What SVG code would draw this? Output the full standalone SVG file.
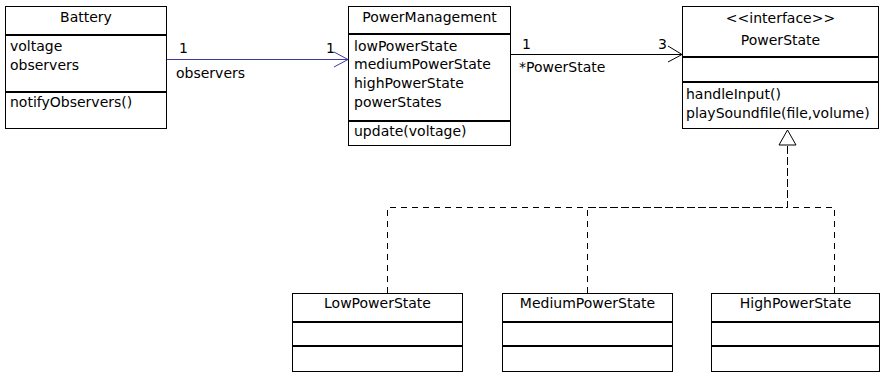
<svg xmlns="http://www.w3.org/2000/svg" width="882" height="373" viewBox="0 0 882 373">
<style>
text{font-family:"DejaVu Sans",sans-serif;font-size:14px;fill:#000}
.c{text-anchor:middle}
.box{fill:#fff;stroke:#000;stroke-width:1}
.sep{stroke:#000;stroke-width:2}
.dash{fill:none;stroke:#000;stroke-width:1;stroke-dasharray:6,5}
</style>
<rect width="882" height="373" fill="#fff"/>
<g id="connectors">
<line x1="167" y1="59.5" x2="348" y2="59.5" stroke="#3b3b9b" stroke-width="1"/>
<polyline points="334,52 348,59.5 334,67" fill="none" stroke="#3b3b9b" stroke-width="1"/>
<text x="179" y="53">1</text>
<text x="326" y="53">1</text>
<text x="176" y="78">observers</text>
<line x1="511" y1="54.5" x2="682" y2="54.5" stroke="#000" stroke-width="1"/>
<polyline points="668,46 682,54.5 668,62" fill="none" stroke="#000" stroke-width="1"/>
<text x="522" y="49">1</text>
<text x="658" y="49">3</text>
<text x="519" y="72">*PowerState</text>
<polyline class="dash" points="387.5,293 387.5,207.5 787.5,207.5 787.5,145"/>
<polyline class="dash" points="587.5,293 587.5,207.5 787.5,207.5 787.5,145"/>
<polyline class="dash" points="834.5,293 834.5,207.5 787.5,207.5 787.5,145"/>
<polygon points="787.5,130 779,145 796,145" fill="#fff" stroke="#000" stroke-width="1"/>
</g>
<g id="Battery">
<rect class="box" x="5.5" y="6.5" width="161" height="122"/>
<line class="sep" x1="5" y1="35" x2="167" y2="35"/>
<line class="sep" x1="5" y1="92" x2="167" y2="92"/>
<text class="c" x="86" y="22">Battery</text>
<text x="10" y="51">voltage</text>
<text x="10" y="70">observers</text>
<text x="10" y="107">notifyObservers()</text>
</g>
<g id="PowerManagement">
<rect class="box" x="348.5" y="6.5" width="162" height="139"/>
<line class="sep" x1="348" y1="34" x2="511" y2="34"/>
<line class="sep" x1="348" y1="121" x2="511" y2="121"/>
<text class="c" x="429.5" y="22">PowerManagement</text>
<text x="354" y="51">lowPowerState</text>
<text x="354" y="69">mediumPowerState</text>
<text x="354" y="88">highPowerState</text>
<text x="354" y="107">powerStates</text>
<text x="354" y="136">update(voltage)</text>
</g>
<g id="PowerState">
<rect class="box" x="682.5" y="6.5" width="196" height="122"/>
<line class="sep" x1="682" y1="57" x2="879" y2="57"/>
<line class="sep" x1="682" y1="82" x2="879" y2="82"/>
<text class="c" x="780.5" y="23">&lt;&lt;interface&gt;&gt;</text>
<text class="c" x="780.5" y="45">PowerState</text>
<text x="686" y="99">handleInput()</text>
<text x="686" y="118">playSoundfile(file,volume)</text>
</g>
<g id="LowPowerState">
<rect class="box" x="292.5" y="293.5" width="170" height="78"/>
<line class="sep" x1="292" y1="322" x2="463" y2="322"/>
<line class="sep" x1="292" y1="346" x2="463" y2="346"/>
<text class="c" x="377.5" y="308">LowPowerState</text>
</g>
<g id="MediumPowerState">
<rect class="box" x="502.5" y="293.5" width="170" height="78"/>
<line class="sep" x1="502" y1="322" x2="673" y2="322"/>
<line class="sep" x1="502" y1="346" x2="673" y2="346"/>
<text class="c" x="587.5" y="308">MediumPowerState</text>
</g>
<g id="HighPowerState">
<rect class="box" x="711.5" y="293.5" width="168" height="78"/>
<line class="sep" x1="711" y1="322" x2="880" y2="322"/>
<line class="sep" x1="711" y1="346" x2="880" y2="346"/>
<text class="c" x="795.5" y="308">HighPowerState</text>
</g>
</svg>
